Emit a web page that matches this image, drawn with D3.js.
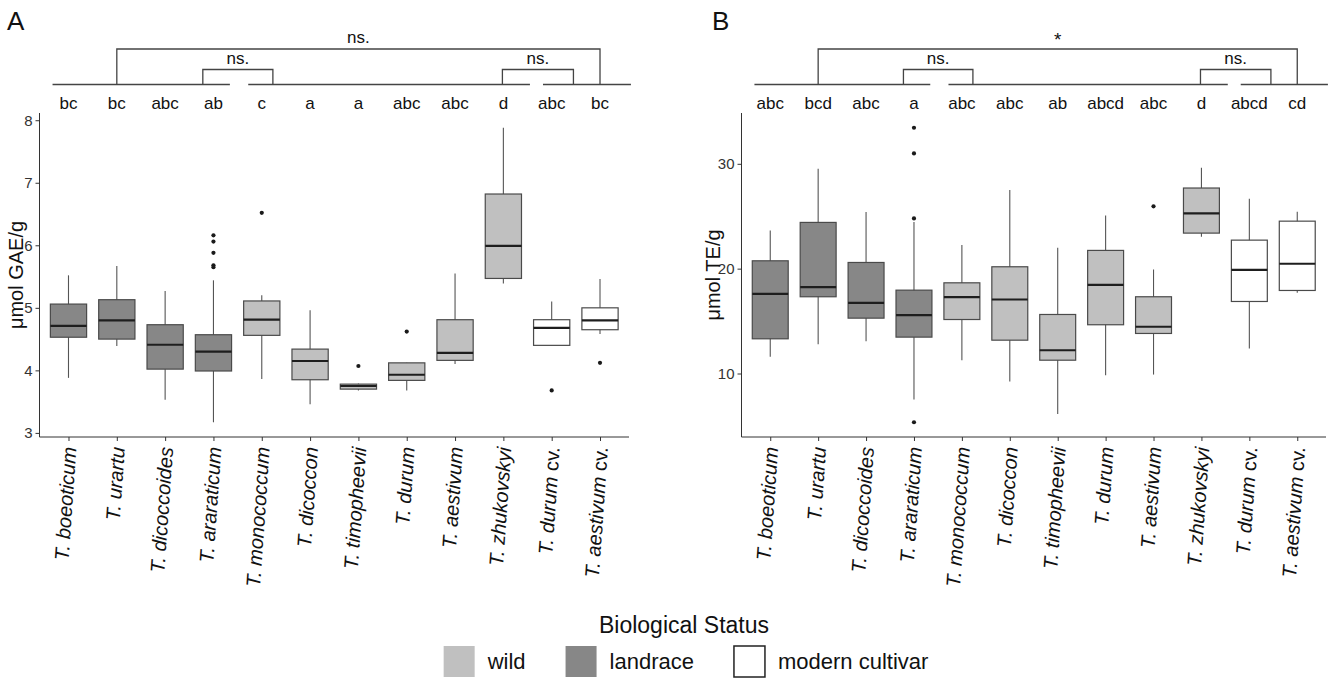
<!DOCTYPE html>
<html lang="en">
<head>
    <meta charset="UTF-8">
    <title>Biological status boxplots</title>
    <script src="https://d3js.org/d3.v7.min.js"></script>
    <style>
        body { margin: 0; background: white; }
        text { font-family: "Liberation Sans", Arial, sans-serif; }
    </style>
</head>
<body>
<script>

    // categories
    var species = ["T. boeoticum", "T. urartu", "T. dicoccoides", "T. araraticum", "T. monococcum",
        "T. dicoccon", "T. timopheevii", "T. durum", "T. aestivum", "T. zhukovskyi",
        "T. durum cv.", "T. aestivum cv."];
    // (not called "status": that name is taken by window.status)
    var bioStatus = ["landrace", "landrace", "landrace", "landrace", "wild", "wild",
        "wild", "wild", "wild", "wild", "modern cultivar", "modern cultivar"];
    var statusOrder = ["wild", "landrace", "modern cultivar"];

    // panel A, umol GAE/g
    var lettersA = ["bc", "bc", "abc", "ab", "c", "a", "a", "abc", "abc", "d", "abc", "bc"];
    var gaeLow  = [3.88, 4.39, 3.53, 3.17, 3.86, 3.46, 3.68, 3.68, 4.10, 5.39, 4.40, 4.58];
    var gaeQ1   = [4.53, 4.50, 4.02, 3.99, 4.56, 3.85, 3.70, 3.84, 4.16, 5.47, 4.40, 4.65];
    var gaeMed  = [4.71, 4.80, 4.41, 4.30, 4.81, 4.15, 3.75, 3.93, 4.28, 5.99, 4.68, 4.80];
    var gaeQ3   = [5.06, 5.13, 4.73, 4.57, 5.11, 4.34, 3.78, 4.12, 4.81, 6.82, 4.81, 5.00];
    var gaeHigh = [5.52, 5.67, 5.27, 5.44, 5.20, 4.96, 3.79, 4.12, 5.55, 7.88, 5.10, 5.46];
    var gaeOut  = [[], [], [], [6.16, 6.06, 5.88, 5.68, 5.65], [6.52], [], [4.07], [4.62], [], [], [3.68], [4.12]];
    var gaeTicks = [3, 4, 5, 6, 7, 8];

    // panel B, umol TE/g
    var lettersB = ["abc", "bcd", "abc", "a", "abc", "abc", "ab", "abcd", "abc", "d", "abcd", "cd"];
    var teLow  = [11.59, 12.80, 13.08, 7.52, 11.27, 9.24, 6.15, 9.84, 9.90, 23.04, 12.39, 17.70];
    var teQ1   = [13.31, 17.32, 15.28, 13.47, 15.15, 13.18, 11.27, 14.65, 13.82, 23.39, 16.87, 17.92];
    var teMed  = [17.60, 18.24, 16.74, 15.57, 17.28, 17.06, 12.22, 18.46, 14.46, 25.27, 19.89, 20.47];
    var teQ3   = [20.75, 24.41, 20.59, 17.95, 18.65, 20.18, 15.63, 21.74, 17.32, 27.69, 22.72, 24.53];
    var teHigh = [23.64, 29.53, 25.40, 24.44, 22.25, 27.49, 21.99, 25.08, 19.92, 29.63, 26.67, 25.43];
    var teOut  = [[], [], [], [33.44, 30.99, 24.79, 5.35], [], [], [], [], [25.94], [], [], []];
    var teTicks = [10, 20, 30];

    // comparison brackets (positions in category units, 1 = first species)
    var baseSegments = [[0.67, 4.34], [4.72, 10.55], [10.82, 12.64]];
    var bracketFrom = [2, 3.78, 9.98];
    var bracketTo = [12, 5.23, 11.45];
    var signifA = ["ns.", "ns.", "ns."];
    var signifB = ["*", "ns.", "ns."];

    var width = 1332, height = 678;
    var fillColor = d3.scaleOrdinal().domain(statusOrder).range(["#c0c0c0", "#878787", "#ffffff"]);

    var svg = d3.select("body").append("svg")
        .attr("width", width)
        .attr("height", height);

    function panel(opt) {
        var rows = species.map(function(s, i) {
            return {name: s, status: bioStatus[i], low: opt.low[i], q1: opt.q1[i], med: opt.med[i],
                q3: opt.q3[i], high: opt.high[i], out: opt.out[i], letter: opt.letters[i]};
        });
        var all = d3.merge([opt.low, opt.high, d3.merge(opt.out)]);
        var ext = d3.extent(all), pad = (ext[1] - ext[0]) * 0.05;

        var x = d3.scalePoint().domain(species).range([opt.left, opt.right]).padding(0.6);
        var y = d3.scaleLinear().domain([ext[0] - pad, ext[1] + pad]).range([437, 113]);
        var step = x.step(), bw = step * 0.75;
        var ux = function(u) { return x(species[0]) + (u - 1) * step; };

        var g = svg.append("g");

        // y axis
        var yAxis = g.append("g")
            .attr("transform", "translate(" + opt.left + ",0)")
            .call(d3.axisLeft(y).tickValues(opt.ticks).tickFormat(d3.format("d")).tickSize(4).tickPadding(3));
        yAxis.select(".domain").attr("stroke", "#333").attr("d", "M0,437V113");
        yAxis.selectAll(".tick line").attr("stroke", "#333");
        yAxis.selectAll(".tick text").attr("font-size", 15).attr("fill", "#333")
            .attr("font-family", "Liberation Sans, Arial, sans-serif");

        // x axis
        var xAxis = g.append("g")
            .attr("transform", "translate(0,437)")
            .call(d3.axisBottom(x).tickSize(4).tickFormat(""));
        xAxis.select(".domain").attr("stroke", "#333").attr("d", "M" + opt.left + ",0H" + opt.right);
        xAxis.selectAll(".tick line").attr("stroke", "#333");

        // rotated species names
        var lab = g.selectAll(".sp").data(rows).enter().append("text")
            .attr("class", "sp")
            .attr("transform", function(d) { return "translate(" + (x(d.name) + 1) + ",447) rotate(-86)"; })
            .attr("text-anchor", "end")
            .attr("dy", "0.35em")
            .attr("font-size", 20)
            .attr("fill", "#111");
        lab.append("tspan").attr("font-style", "italic")
            .text(function(d) { return d.name.replace(" cv.", ""); });
        lab.filter(function(d) { return d.name.indexOf(" cv.") > 0; })
            .append("tspan").text(" cv.");

        // y title
        g.append("text")
            .attr("transform", "translate(" + opt.titleX + ",275) rotate(-90)")
            .attr("text-anchor", "middle")
            .attr("dy", "0.35em")
            .attr("font-size", 20)
            .attr("fill", "#111")
            .text(opt.title);

        // boxes
        var box = g.selectAll(".box").data(rows).enter().append("g").attr("class", "box");
        box.append("line")
            .attr("x1", function(d) { return x(d.name); }).attr("x2", function(d) { return x(d.name); })
            .attr("y1", function(d) { return y(d.low); }).attr("y2", function(d) { return y(d.high); })
            .attr("stroke", "#555").attr("stroke-width", 1.1);
        box.append("rect")
            .attr("x", function(d) { return x(d.name) - bw / 2; })
            .attr("width", bw)
            .attr("y", function(d) { return y(d.q3); })
            .attr("height", function(d) { return Math.max(1, y(d.q1) - y(d.q3)); })
            .attr("fill", function(d) { return fillColor(d.status); })
            .attr("stroke", "#4a4a4a").attr("stroke-width", 1.2);
        box.append("line")
            .attr("x1", function(d) { return x(d.name) - bw / 2; }).attr("x2", function(d) { return x(d.name) + bw / 2; })
            .attr("y1", function(d) { return y(d.med); }).attr("y2", function(d) { return y(d.med); })
            .attr("stroke", "#1e1e1e").attr("stroke-width", 2.2);
        box.selectAll("circle").data(function(d) { return d.out.map(function(v) { return {name: d.name, v: v}; }); })
            .enter().append("circle")
            .attr("cx", function(d) { return x(d.name); })
            .attr("cy", function(d) { return y(d.v); })
            .attr("r", 2.1)
            .attr("fill", "#1a1a1a");

        // letters above
        g.selectAll(".let").data(rows).enter().append("text")
            .attr("x", function(d) { return x(d.name); })
            .attr("y", 109)
            .attr("text-anchor", "middle")
            .attr("font-size", 17)
            .attr("fill", "#111")
            .text(function(d) { return d.letter; });

        // comparison lines
        var br = g.append("g").attr("stroke", "#444").attr("stroke-width", 1.3).attr("fill", "none");
        baseSegments.forEach(function(s) {
            br.append("path").attr("d", "M" + ux(s[0]) + ",84.5H" + ux(s[1]));
        });
        bracketFrom.forEach(function(f, i) {
            var top = i === 0 ? 49 : 69.5;
            br.append("path").attr("d", "M" + ux(f) + ",84.5V" + top + "H" + ux(bracketTo[i]) + "V84.5");
            g.append("text")
                .attr("x", (ux(f) + ux(bracketTo[i])) / 2)
                .attr("y", i === 0 ? (opt.signif[i] === "*" ? 46 : 43) : 64)
                .attr("text-anchor", "middle")
                .attr("font-size", opt.signif[i] === "*" ? 19 : 17)
                .attr("fill", "#111")
                .text(opt.signif[i]);
        });

        // panel letter
        g.append("text")
            .attr("x", opt.tagX).attr("y", 30)
            .attr("font-size", 26)
            .attr("fill", "#111")
            .text(opt.tag);
    }

    panel({left: 39.5, right: 629, low: gaeLow, q1: gaeQ1, med: gaeMed, q3: gaeQ3, high: gaeHigh,
        out: gaeOut, letters: lettersA, ticks: gaeTicks, signif: signifA,
        title: "μmol GAE/g", titleX: 16, tag: "A", tagX: 7});
    panel({left: 741.5, right: 1326, low: teLow, q1: teQ1, med: teMed, q3: teQ3, high: teHigh,
        out: teOut, letters: lettersB, ticks: teTicks, signif: signifB,
        title: "μmol TE/g", titleX: 713, tag: "B", tagX: 712});

    // legend
    var leg = svg.append("g");
    leg.append("text")
        .attr("x", 684).attr("y", 633)
        .attr("text-anchor", "middle")
        .attr("font-size", 23)
        .attr("fill", "#111")
        .text("Biological Status");

    var items = leg.selectAll(".item").data(statusOrder).enter().append("g").attr("class", "item");
    items.append("rect")
        .attr("width", 31).attr("height", 31)
        .attr("y", 646)
        .attr("fill", function(d) { return fillColor(d); })
        .attr("stroke", function(d) { return d === "modern cultivar" ? "#222" : "none"; })
        .attr("stroke-width", 1.5);
    items.append("text")
        .attr("x", 44).attr("y", 661.5)
        .attr("dy", "0.35em")
        .attr("font-size", 22)
        .attr("fill", "#111")
        .text(function(d) { return d; });

    // place items side by side, centred under the panels
    var widths = [];
    items.each(function() { widths.push(44 + d3.select(this).select("text").node().getComputedTextLength()); });
    var gap = 40, total = d3.sum(widths) + gap * (widths.length - 1);
    var cx = 686 - total / 2;
    items.attr("transform", function(d, i) {
        var t = "translate(" + cx + ",0)";
        cx += widths[i] + gap;
        return t;
    });

</script>
</body>
</html>
